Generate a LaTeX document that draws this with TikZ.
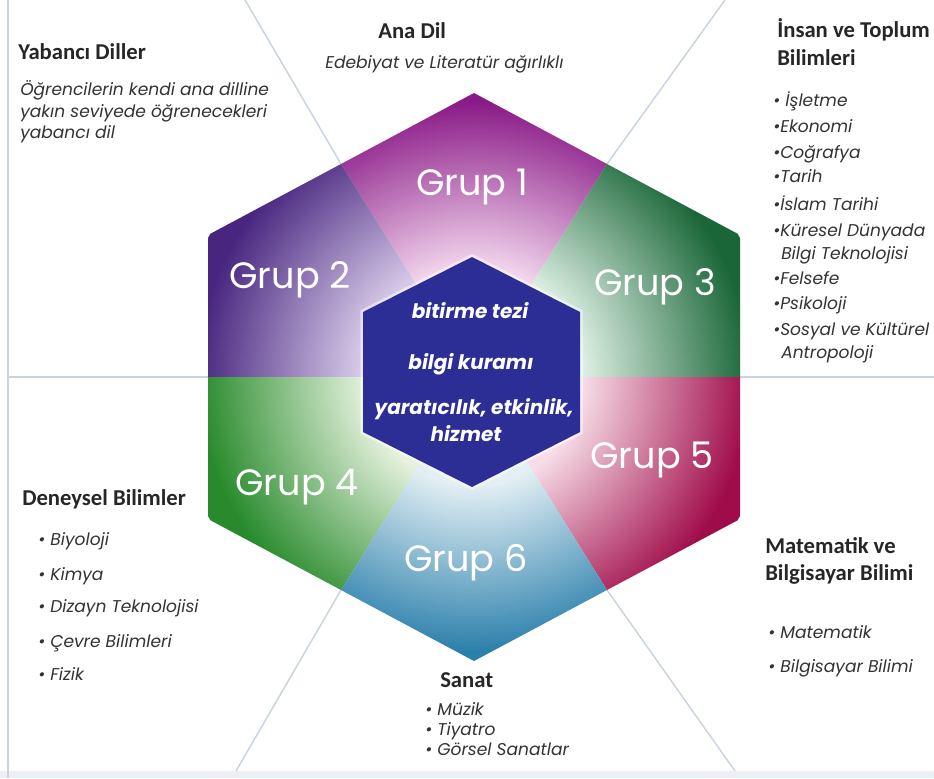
\documentclass[tikz,border=0pt]{standalone}
\usepackage{fontspec}
\setmainfont{Carlito}
\newfontfamily\gothic{Poppins}
\usetikzlibrary{positioning}

\definecolor{raygray}{HTML}{C9D4E0}
\definecolor{coreblue}{HTML}{2D2D96}
\definecolor{oneDark}{HTML}{8A1A87}   \definecolor{oneLight}{HTML}{F3D8EE}
\definecolor{twoDark}{HTML}{48267F}   \definecolor{twoLight}{HTML}{DCD0EC}
\definecolor{threeDark}{HTML}{1A6638} \definecolor{threeLight}{HTML}{DEF0E4}
\definecolor{fourDark}{HTML}{288A2C}  \definecolor{fourLight}{HTML}{E6F2DE}
\definecolor{fiveDark}{HTML}{A00C4A}  \definecolor{fiveLight}{HTML}{F7DDE7}
\definecolor{sixDark}{HTML}{2A7FAB}   \definecolor{sixLight}{HTML}{E3EFF4}

% radial fade of one sector: light near the middle, dark at the rim
\newcommand{\sectorshade}[3]{%
  \pgfdeclareradialshading{#1}{\pgfpoint{0bp}{0bp}}{%
    color(0bp)=(#2); color(9bp)=(#2); color(23bp)=(#3); color(50bp)=(#3)}}
\sectorshade{shadeOne}{oneLight}{oneDark}
\sectorshade{shadeTwo}{twoLight}{twoDark}
\sectorshade{shadeThree}{threeLight}{threeDark}
\sectorshade{shadeFour}{fourLight}{fourDark}
\sectorshade{shadeFive}{fiveLight}{fiveDark}
\sectorshade{shadeSix}{sixLight}{sixDark}

\begin{document}
\begin{tikzpicture}[x=0.75pt,y=-0.75pt,
    rayline/.style={draw=raygray, line width=1.1pt},
    headtext/.style={anchor=base west, inner sep=0pt, text=black!85,
      font=\bfseries\fontsize{17}{20}\selectfont},
    itemtext/.style={anchor=base west, inner sep=0pt, text=black!80,
      font=\gothic\itshape\fontsize{12.8}{15}\selectfont},
    grplabel/.style={text=white, inner sep=0pt,
      font=\gothic\fontsize{27.5}{32}\selectfont},
    coretext/.style={text=white, inner sep=0pt,
      font=\gothic\bfseries\itshape\fontsize{15}{17}\selectfont}]
    \useasboundingbox (0,0) rectangle (934,778);
    \fill[white] (0,0) rectangle (934,778);
    \fill[raygray!35] (0,771) rectangle (934,778);
    \draw[rayline] (8,0) -- (8,778);

    % big hexagon
    \coordinate (c) at (474,377);
    \coordinate (t) at (474,93);
    \coordinate (ur) at (740,235);
    \coordinate (lr) at (740,519);
    \coordinate (b) at (474,661);
    \coordinate (ll) at (208,519);
    \coordinate (ul) at (208,235);
    \coordinate (mtr) at (607,164);
    \coordinate (mr) at (740,377);
    \coordinate (mbr) at (607,590);
    \coordinate (mbl) at (341,590);
    \coordinate (ml) at (208,377);
    \coordinate (mtl) at (341,164);

    % rays
    \draw[rayline] (mtl) -- (245,0);
    \draw[rayline] (mtr) -- (725,0);
    \draw[rayline] (ml) -- (8,377);
    \draw[rayline] (mr) -- (934,377);
    \draw[rayline] (mbl) -- (236,771);
    \draw[rayline] (mbr) -- (735,771);

    % sectors
    \begin{scope}
      \clip (c) -- (mtl) -- (t) -- (mtr) -- cycle;
      \shade[shading=shadeOne] (c) circle (300);
    \end{scope}
    \begin{scope}
      \clip (c) -- (ml) -- (ul) -- (mtl) -- cycle;
      \shade[shading=shadeTwo] (c) circle (300);
    \end{scope}
    \begin{scope}
      \clip (c) -- (mtr) -- (ur) -- (mr) -- cycle;
      \shade[shading=shadeThree] (c) circle (300);
    \end{scope}
    \begin{scope}
      \clip (c) -- (mbl) -- (ll) -- (ml) -- cycle;
      \shade[shading=shadeFour] (c) circle (300);
    \end{scope}
    \begin{scope}
      \clip (c) -- (mr) -- (lr) -- (mbr) -- cycle;
      \shade[shading=shadeFive] (c) circle (300);
    \end{scope}
    \begin{scope}
      \clip (c) -- (mbr) -- (b) -- (mbl) -- cycle;
      \shade[shading=shadeSix] (c) circle (300);
    \end{scope}

    \node[grplabel] (grup1) at (472,187) {Grup 1};
    \node[grplabel] (grup2) at (290,280) {Grup 2};
    \node[grplabel] (grup3) at (655,287) {Grup 3};
    \node[grplabel] (grup4) at (297,487) {Grup 4};
    \node[grplabel] (grup5) at (652,460) {Grup 5};
    \node[grplabel] (grup6) at (466,563) {Grup 6};

    % core hexagon
    \draw[white, opacity=.5, line width=4pt] (472,257) -- (580,312) -- (580,432)
      -- (472,487) -- (363,432) -- (363,312) -- cycle;
    \fill[coreblue] (472,257) -- (580,312) -- (580,432)
      -- (472,487) -- (363,432) -- (363,312) -- cycle;
    \node[coretext] (tez) at (470,311) {bitirme tezi};
    \node[coretext] (bk) at (471,364) {bilgi kuramı};
    \node[coretext] (yeh) at (474,409) {yaratıcılık, etkinlik,};
    \node[coretext] (hiz) at (466,434) {hizmet};

    % Yabanci Diller
    \node[headtext] (yd) at (18,59) {Yabancı Diller};
    \node[itemtext] (yd1) at (20,95) {Öğrencilerin kendi ana dilline};
    \node[itemtext] (yd2) at (20,117) {yakın seviyede  öğrenecekleri};
    \node[itemtext] (yd3) at (20,138) {yabancı dil};

    % Ana Dil
    \node[headtext] (ad) at (378,38) {Ana Dil};
    \node[itemtext] (ad1) at (325,68) {Edebiyat ve Literatür ağırlıklı};

    % Insan ve Toplum Bilimleri
    \node[headtext] (it) at (777,37) {İnsan ve Toplum};
    \node[headtext] (it0) at (777,65) {Bilimleri};
    \node[itemtext] (it1) at (773,106) {• İşletme};
    \node[itemtext] (it2) at (773,132) {•Ekonomi};
    \node[itemtext] (it3) at (773,158) {•Coğrafya};
    \node[itemtext] (it4) at (773,182) {•Tarih};
    \node[itemtext] (it5) at (773,210) {•İslam Tarihi};
    \node[itemtext] (it6) at (773,236) {•Küresel Dünyada};
    \node[itemtext] (it7) at (781,259) {Bilgi Teknolojisi};
    \node[itemtext] (it8) at (773,284) {•Felsefe};
    \node[itemtext] (it9) at (773,309) {•Psikoloji};
    \node[itemtext] (it10) at (773,335) {•Sosyal ve Kültürel};
    \node[itemtext] (it11) at (781,358) {Antropoloji};

    % Deneysel Bilimler
    \node[headtext] (db) at (22,505) {Deneysel Bilimler};
    \node[itemtext] (db1) at (38,545) {• Biyoloji};
    \node[itemtext] (db2) at (38,580) {• Kimya};
    \node[itemtext] (db3) at (38,612) {• Dizayn Teknolojisi};
    \node[itemtext] (db4) at (38,647) {• Çevre Bilimleri};
    \node[itemtext] (db5) at (38,680) {• Fizik};

    % Matematik ve Bilgisayar Bilimi
    \node[headtext] (mb) at (765,553) {Matematik ve};
    \node[headtext] (mb0) at (765,580) {Bilgisayar Bilimi};
    \node[itemtext] (mb1) at (768,638) {• Matematik};
    \node[itemtext] (mb2) at (768,672) {• Bilgisayar Bilimi};

    % Sanat
    \node[headtext] (sn) at (440,687) {Sanat};
    \node[itemtext] (sn1) at (425,715) {• Müzik};
    \node[itemtext] (sn2) at (425,735) {• Tiyatro};
    \node[itemtext] (sn3) at (425,755) {• Görsel Sanatlar};
\end{tikzpicture}
\end{document}
